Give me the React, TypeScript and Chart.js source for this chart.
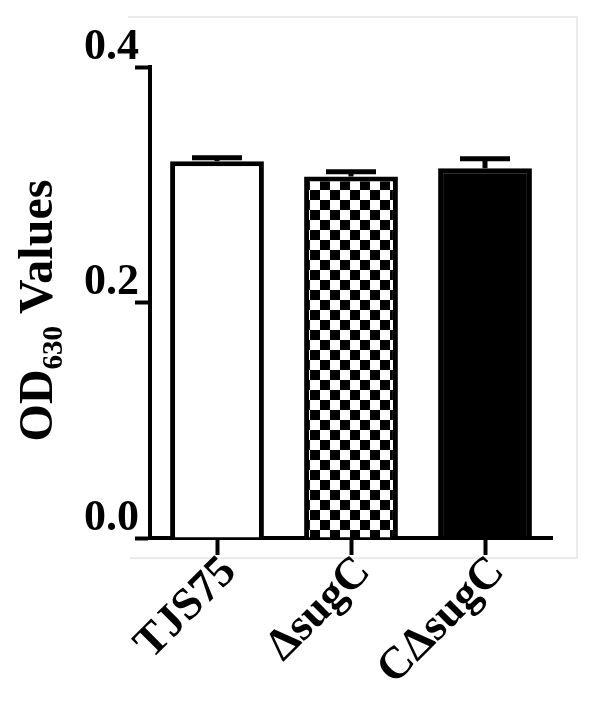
import React, { useEffect, useRef } from "react";
import { Chart, registerables } from "chart.js";

Chart.register(...registerables);

const categories = ["TJS75", "ΔsugC", "CΔsugC"];
const odValues = [0.32, 0.307, 0.314];
const errorUp = [0.003, 0.004, 0.008];
const yMin = 0;
const yMax = 0.4;
const yStep = 0.2;
const titleMain = "OD";
const titleSub = "630";
const titleRest = " Values";

const FONT = "'Liberation Serif', 'Times New Roman', serif";

function makeChecker(): CanvasPattern | string {
  const c = document.createElement("canvas");
  c.width = 20;
  c.height = 20;
  const g = c.getContext("2d");
  if (!g) return "#808080";
  g.fillStyle = "#ffffff";
  g.fillRect(0, 0, 20, 20);
  g.fillStyle = "#000000";
  g.fillRect(0, 0, 10, 10);
  g.fillRect(10, 10, 10, 10);
  const p = g.createPattern(c, "repeat");
  return p || "#808080";
}

const framePlugin = {
  id: "frame",
  beforeDraw(chart: any) {
    const ctx = chart.ctx;
    const a = chart.chartArea;
    ctx.save();
    ctx.strokeStyle = "#ebebeb";
    ctx.lineWidth = 2;
    ctx.beginPath();
    ctx.moveTo(a.left - 22, 17);
    ctx.lineTo(a.right + 25, 17);
    ctx.lineTo(a.right + 25, a.bottom + 20);
    ctx.lineTo(a.left - 20, a.bottom + 20);
    ctx.stroke();
    ctx.restore();
  },
};

const errorBarPlugin = {
  id: "errorBars",
  afterDatasetsDraw(chart: any) {
    const ctx = chart.ctx;
    const meta = chart.getDatasetMeta(0);
    const y = chart.scales.y;
    ctx.save();
    ctx.strokeStyle = "#000";
    ctx.lineWidth = 5;
    ctx.lineCap = "butt";
    meta.data.forEach((bar: any, i: number) => {
      const top = y.getPixelForValue(odValues[i]);
      const hi = y.getPixelForValue(odValues[i] + errorUp[i]);
      const cx = bar.x;
      ctx.beginPath();
      ctx.moveTo(cx, top);
      ctx.lineTo(cx, hi);
      ctx.stroke();
      ctx.beginPath();
      ctx.moveTo(cx - 25, hi);
      ctx.lineTo(cx + 25, hi);
      ctx.stroke();
    });
    ctx.restore();
  },
};

const yTitlePlugin = {
  id: "yTitle",
  afterDraw(chart: any) {
    const ctx = chart.ctx;
    const a = chart.chartArea;
    const big = `bold 48px ${FONT}`;
    const small = `bold 29px ${FONT}`;
    ctx.save();
    ctx.fillStyle = "#000";
    ctx.textBaseline = "alphabetic";
    ctx.textAlign = "left";
    ctx.font = big;
    const w1 = ctx.measureText(titleMain).width;
    const w3 = ctx.measureText(titleRest).width;
    ctx.font = small;
    const w2 = ctx.measureText(titleSub).width;
    const total = w1 + w2 + w3;
    ctx.translate(a.left - 98, (a.top + a.bottom) / 2 + 8);
    ctx.rotate(-Math.PI / 2);
    let x = -total / 2;
    ctx.font = big;
    ctx.fillText(titleMain, x, 0);
    x += w1;
    ctx.font = small;
    ctx.fillText(titleSub, x, 10);
    x += w2;
    ctx.font = big;
    ctx.fillText(titleRest, x, 0);
    ctx.restore();
  },
};

export default function App() {
  const ref = useRef<HTMLCanvasElement | null>(null);
  useEffect(() => {
    if (!ref.current) return;
    const checker = makeChecker();
    const chart = new Chart(ref.current, {
      type: "bar",
      data: {
        labels: categories,
        datasets: [
          {
            data: odValues,
            backgroundColor: ["#ffffff", checker as any, "#000000"],
            borderColor: "#000000",
            borderWidth: 5,
            borderSkipped: "start",
            barPercentage: 0.7,
            categoryPercentage: 1,
          },
        ],
      },
      options: {
        animation: false,
        responsive: false,
        devicePixelRatio: 1,
        layout: { padding: { top: 67, right: 43, left: 0, bottom: 0 } },
        plugins: {
          legend: { display: false },
          tooltip: { enabled: false },
          title: { display: false },
        },
        scales: {
          x: {
            offset: true,
            grid: {
              offset: false,
              drawOnChartArea: false,
              drawTicks: true,
              tickLength: 17,
              tickWidth: 4,
              tickColor: "#000",
              color: "#000",
            },
            border: { display: true, color: "#000", width: 4 },
            ticks: {
              color: "#000",
              font: { family: FONT, size: 45, weight: "bold", lineHeight: 0.4 },
              minRotation: 45,
              maxRotation: 45,
              padding: -9,
              autoSkip: false,
              callback: (_v: any, i: number) => ["", categories[i]],
            },
            afterFit: (s: any) => {
              s.height = 169;
            },
          },
          y: {
            min: yMin,
            max: yMax,
            grid: {
              drawOnChartArea: false,
              drawTicks: true,
              tickLength: 15,
              tickWidth: 4,
              tickColor: "#000",
              color: "#000",
            },
            border: { display: true, color: "#000", width: 4 },
            ticks: {
              stepSize: yStep,
              color: "#000",
              font: { family: FONT, size: 44, weight: "bold", lineHeight: 0.9 },
              padding: -4,
              callback: (v: any) => [Number(v).toFixed(1), ""],
            },
            afterFit: (s: any) => {
              s.width = 150;
            },
          },
        },
      },
      plugins: [framePlugin, errorBarPlugin, yTitlePlugin],
    });
    return () => chart.destroy();
  }, []);
  return (
    <div style={{ position: "absolute", left: 0, top: 0, width: 595, height: 707, background: "#fff" }}>
      <canvas ref={ref} width={595} height={707} style={{ width: 595, height: 707 }} />
    </div>
  );
}
